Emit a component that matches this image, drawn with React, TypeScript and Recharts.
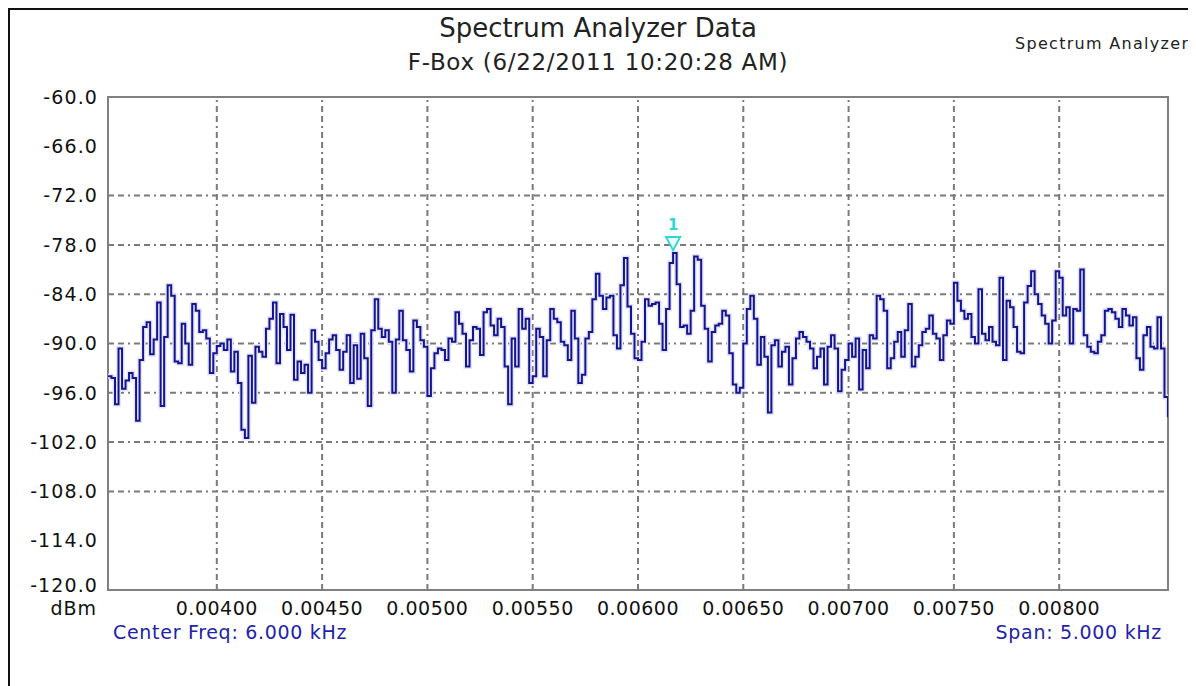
import React from 'react';
import { LineChart, Line, XAxis, YAxis, ReferenceLine, ReferenceArea, ReferenceDot } from 'recharts';

const chartTitle = 'Spectrum Analyzer Data';
const chartSubtitle = 'F-Box (6/22/2011 10:20:28 AM)';
const cornerLabel = 'Spectrum Analyzer';
const centerFreqLabel = 'Center Freq: 6.000 kHz';
const spanLabel = 'Span: 5.000 kHz';
const unitLabel = 'dBm';
const markerLabel = '1';

const xTicks = [0.004, 0.0045, 0.005, 0.0055, 0.006, 0.0065, 0.007, 0.0075, 0.008];
const yTicks = [-60, -66, -72, -78, -84, -90, -96, -102, -108, -114, -120];
const yGridValues = [-72, -78, -84, -90, -96, -102, -108];

const sweepStartMHz = 0.00348333;
const sweepEndMHz = 0.00851667;

const traceDbm = [
  -94.0, -94.2, -97.4, -90.6, -95.5, -94.5, -93.6, -94.2, -99.4, -92.0,
  -88.0, -87.4, -91.3, -89.5, -85.0, -97.6, -89.2, -82.9, -84.2, -92.2,
  -92.4, -87.6, -90.0, -92.6, -85.2, -86.0, -88.6, -88.4, -89.4, -93.6,
  -91.2,
  -90.3, -90.0, -90.8, -89.5, -93.4, -91.0, -94.8, -100.5, -101.5, -91.5,
  -97.2, -90.4, -91.0, -91.6, -88.2, -87.0, -85.0, -92.4, -86.4, -88.0,
  -90.8, -86.5, -94.4, -92.2, -93.6, -92.6, -96.0, -88.4, -89.8, -92.0,
  -93.0, -91.2, -89.5, -89.0, -90.8, -93.2, -91.0, -89.0, -94.8, -90.2,
  -94.3, -88.8, -91.8, -97.6, -88.4, -84.6, -88.2, -89.2, -88.4, -89.8,
  -96.0, -89.5, -86.0, -89.6, -90.8, -93.4, -87.2, -88.0, -89.6, -90.4,
  -96.4, -93.0, -91.2, -90.6, -90.8, -92.0, -89.4, -89.8, -86.2, -87.6,
  -88.8, -92.8, -89.6, -88.0, -88.2, -91.4, -86.2, -85.8, -87.8, -89.0,
  -87.0, -88.0, -92.8, -97.4, -89.4, -92.8, -85.8, -88.2, -87.0, -94.8,
  -94.0, -88.2, -89.2, -94.0, -89.6, -85.8, -87.0, -87.4, -89.8, -90.2,
  -92.0, -86.0, -89.4, -94.8, -93.8, -89.4, -88.6, -84.6, -81.5, -84.2,
  -85.8, -84.4, -84.2, -89.0, -90.6, -82.9, -79.6, -85.5, -88.8, -91.8,
  -92.0, -89.8, -84.6, -85.4, -85.2, -85.0, -87.6, -90.8, -85.8, -80.2,
  -79.0, -82.8, -88.0, -87.8, -88.8, -86.0, -79.4, -79.8, -85.4, -88.2,
  -92.2, -88.6, -87.8, -87.6, -86.0, -86.6, -91.2, -95.0, -96.0, -95.4,
  -90.0, -85.8, -84.2, -87.0, -92.6, -89.2, -91.6, -98.4, -90.2, -89.6,
  -92.8, -91.0, -90.4, -95.0, -91.8, -89.4, -88.6, -89.2, -89.8, -90.6,
  -93.0, -91.6, -90.6, -95.0, -90.4, -89.0, -90.6, -95.8, -93.2, -92.0,
  -90.0, -91.6, -89.4, -95.6, -90.8, -93.0, -89.0, -89.4, -84.2, -84.6,
  -86.0, -93.0, -91.8, -89.8, -88.6, -91.6, -88.4, -85.2, -92.8, -91.6,
  -90.2, -88.6, -88.2, -86.6, -88.8, -89.4, -92.0, -89.0, -87.2, -87.6,
  -82.6, -84.8, -86.0, -87.0, -86.4, -89.2, -90.0, -83.4, -88.8, -89.6,
  -88.0, -89.8, -90.2, -82.0, -92.0, -84.8, -85.6, -88.0, -91.0, -91.2,
  -85.0, -83.0, -81.2, -84.0, -85.2, -86.6, -87.6, -90.0, -87.2, -81.2,
  -82.0, -86.6, -85.6, -90.0, -85.8, -86.0, -81.0, -89.0, -90.4, -91.0,
  -91.2, -89.8, -89.0, -86.0, -85.8, -86.2, -87.0, -88.0, -85.8, -86.6,
  -87.8, -86.8, -91.8, -93.2, -89.0, -88.0, -90.4, -90.6, -86.8, -90.6,
  -96.5, -99.0,
];

const sweepStep = (sweepEndMHz - sweepStartMHz) / (traceDbm.length - 1);
const data = traceDbm.map((v, i) => ({ f: sweepStartMHz + i * sweepStep, v }));

const peakIndex = traceDbm.reduce((best, v, i) => (v > traceDbm[best] ? i : best), 0);
const peakPoint = data[peakIndex];

const FONT = '"DejaVu Sans", sans-serif';
const gridStroke = '#7a7a7a';
const gridDash = '6 4 6 4 2 4';

const MarkerShape = (props: any) => {
  const { cx, cy } = props;
  if (cx == null || cy == null) return null;
  const top = cy - 16;
  const tip = cy - 3;
  return (
    <g>
      <polygon
        points={`${cx - 7},${top} ${cx + 7},${top} ${cx},${tip}`}
        fill="#eaffff"
        stroke="#2fd6d6"
        strokeWidth={2}
      />
      <text x={cx} y={top - 7} textAnchor="middle" fill="#2fd6d6" fontFamily={FONT} fontSize={15} fontWeight="bold">
        {markerLabel}
      </text>
    </g>
  );
};

const YTick = (props: any) => {
  const { x, y, payload } = props;
  const shift = payload.value === -120 ? -5 : 0;
  return (
    <text
      x={x}
      y={y + shift}
      dy="0.355em"
      textAnchor="end"
      fontFamily={FONT}
      fontSize={19}
      fill="#111"
      letterSpacing={1.1}
    >
      {payload.value.toFixed(1)}
    </text>
  );
};

export default function App() {
  return (
    <div
      style={{
        position: 'relative',
        width: 1188,
        height: 678,
        boxSizing: 'border-box',
        borderLeft: '2px solid #111',
        borderTop: '2px solid #111',
        background: '#fff',
        fontFamily: FONT,
        overflow: 'hidden',
      }}
    >
      <LineChart
        width={1186}
        height={676}
        data={data}
        margin={{ top: 87, right: 28, left: 0, bottom: 0 }}
      >
        <XAxis
          type="number"
          dataKey="f"
          domain={[sweepStartMHz, sweepEndMHz]}
          allowDataOverflow
          ticks={xTicks}
          interval={0}
          tickFormatter={(v: number) => v.toFixed(5)}
          axisLine={false}
          tickLine={false}
          tickSize={0}
          tickMargin={12}
          height={96}
          tick={{ fontFamily: FONT, fontSize: 19, fill: '#111', letterSpacing: 0.5 }}
        />
        <YAxis
          type="number"
          domain={[-120, -60]}
          allowDataOverflow
          ticks={yTicks}
          interval={0}
          axisLine={false}
          tickLine={false}
          tickSize={0}
          tickMargin={10}
          width={98}
          tick={<YTick />}
        />
        {yGridValues.map((y) => (
          <ReferenceLine key={`h${y}`} y={y} stroke={gridStroke} strokeWidth={2} strokeDasharray={gridDash} />
        ))}
        {xTicks.map((x) => (
          <ReferenceLine key={`v${x}`} x={x} stroke={gridStroke} strokeWidth={2} strokeDasharray={gridDash} />
        ))}
        <Line
          type="stepAfter"
          dataKey="v"
          stroke="#e4e4fb"
          strokeWidth={5}
          dot={false}
          activeDot={false}
          isAnimationActive={false}
        />
        <Line
          type="stepAfter"
          dataKey="v"
          stroke="#14148f"
          strokeWidth={2}
          dot={false}
          activeDot={false}
          isAnimationActive={false}
        />
        <ReferenceArea
          x1={sweepStartMHz}
          x2={sweepEndMHz}
          y1={-120}
          y2={-60}
          fill="none"
          fillOpacity={0}
          stroke="#808080"
          strokeWidth={2}
          ifOverflow="visible"
        />
        <ReferenceDot x={peakPoint.f} y={peakPoint.v} r={0} ifOverflow="visible" shape={MarkerShape} />
      </LineChart>

      <div style={{ position: 'absolute', left: 588, top: 3, transform: 'translateX(-50%)', fontSize: 26, lineHeight: '30px', color: '#222', whiteSpace: 'nowrap' }}>
        {chartTitle}
      </div>
      <div style={{ position: 'absolute', left: 588, top: 39, transform: 'translateX(-50%)', fontSize: 23, lineHeight: '26px', color: '#222', whiteSpace: 'nowrap', letterSpacing: 0.7 }}>
        {chartSubtitle}
      </div>
      <div style={{ position: 'absolute', left: 1005, top: 25, fontSize: 16, lineHeight: '18px', color: '#222', whiteSpace: 'nowrap', letterSpacing: 1.3 }}>
        {cornerLabel}
      </div>
      <div style={{ position: 'absolute', right: 1188 - 2 - 87, top: 587, fontSize: 19, lineHeight: '22px', color: '#111', whiteSpace: 'nowrap', letterSpacing: 1 }}>
        {unitLabel}
      </div>
      <div style={{ position: 'absolute', left: 103, top: 611, fontSize: 19, lineHeight: '22px', color: '#2222aa', whiteSpace: 'nowrap', letterSpacing: 0.7 }}>
        {centerFreqLabel}
      </div>
      <div style={{ position: 'absolute', right: 1188 - 2 - 1152, top: 611, fontSize: 19, lineHeight: '22px', color: '#2222aa', whiteSpace: 'nowrap', letterSpacing: 0.7 }}>
        {spanLabel}
      </div>
    </div>
  );
}
